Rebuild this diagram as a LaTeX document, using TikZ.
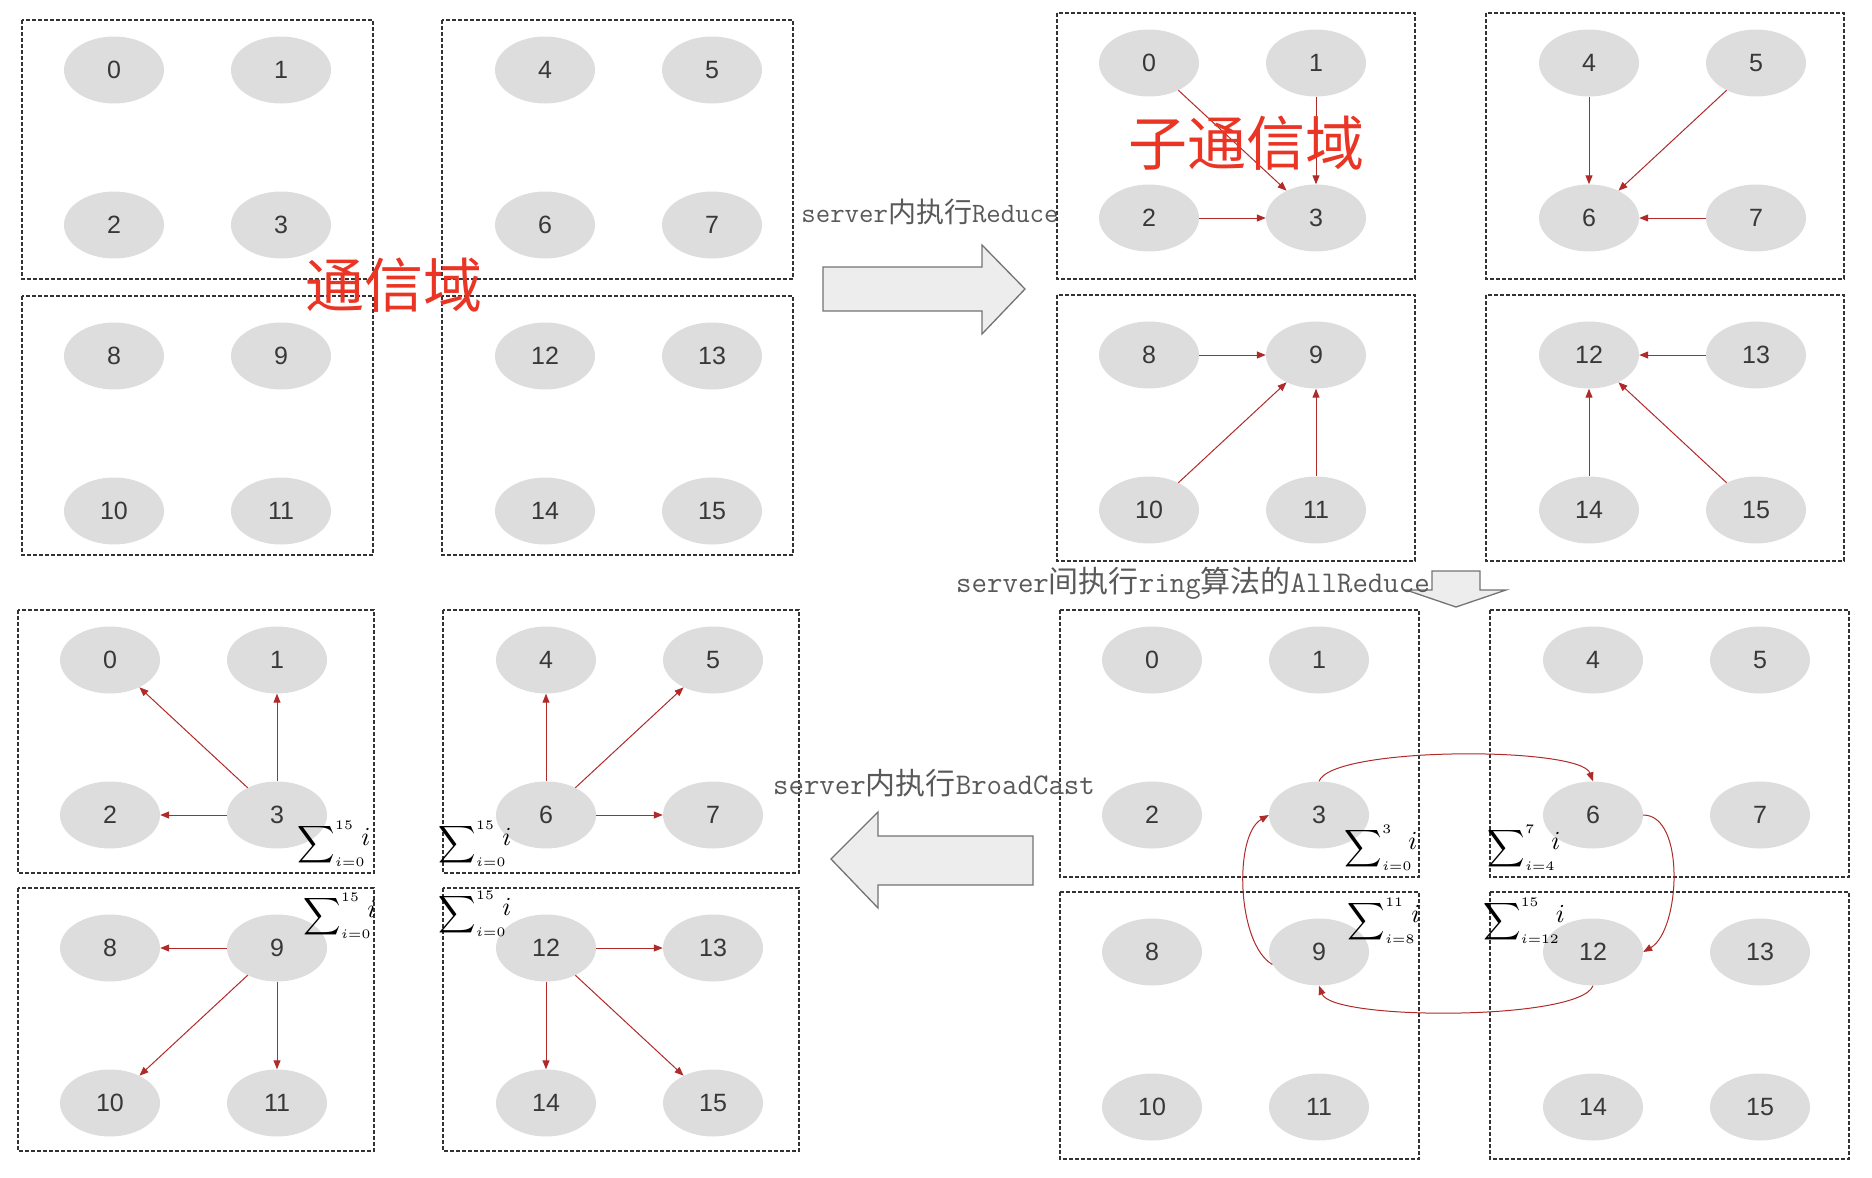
\documentclass[tikz,border=0pt]{standalone}
\usepackage{fontspec}
\newfontfamily\cjk{Noto Sans CJK SC}
\newfontfamily\numfont{Liberation Sans}
\usetikzlibrary{shapes.geometric,arrows.meta}
\definecolor{linkred}{RGB}{176,42,42}
\definecolor{rankgray}{RGB}{221,221,221}
\definecolor{domainred}{RGB}{234,52,36}
\tikzset{
	srvbox/.style={draw=black!80,line width=1.4pt,dash pattern=on 4pt off 2pt},
	rank/.style={ellipse,fill=rankgray,minimum width=100pt,minimum height=67pt,inner sep=0pt,font=\numfont\fontsize{25}{25}\selectfont,text=black!78},
	link/.style={draw=linkred,line width=1pt,-{Triangle[length=9pt,width=7pt]}},
	bigarrow/.style={draw=black!55,line width=1.3pt,fill=black!7},
	steplabel/.style={font=\ttfamily\fontsize{#1}{#1}\selectfont,text=black!65,inner sep=0pt},
	steplabel/.default=30,
	commdomain/.style={font=\cjk\fontsize{59}{59}\selectfont,text=domainred,inner sep=0pt},
	partsum/.style={scale=2.6,inner sep=0pt}
}
\begin{document}
\begin{tikzpicture}[x=1pt,y=-1pt]
	\useasboundingbox (0,0) rectangle (1872,1178);

	\foreach \pn/\ox/\oy/\dx/\dy/\w/\h in {a/22/20/420/276/351/259, b/1057/13/429/282/358/266, d/18/610/425/278/356/263, c/1060/610/430/282/359/267} {
		\foreach \bi/\bx/\by/\sx/\sy in {0/0/0/0/0, 1/1/0/11/0, 2/0/1/0/10, 3/1/1/11/10} {
			\draw[srvbox] (\ox+\bx*\dx,\oy+\by*\dy) rectangle ++(\w,\h);
			\foreach \r/\cx/\cy in {0/0/0, 1/1/0, 2/0/1, 3/1/1} {
				\pgfmathtruncatemacro{\rk}{4*\bi+\r}
				\node[rank] (\pn\rk) at (\ox+\bx*\dx+92+\sx+167*\cx,\oy+\by*\dy+50+\sy+155*\cy) {\rk};
			}
		}
	}

	\foreach \s/\t in {0/3, 1/3, 2/3, 4/6, 5/6, 7/6, 8/9, 10/9, 11/9, 13/12, 14/12, 15/12} {\draw[link] (b\s) -- (b\t);}
	\foreach \s/\t in {3/0, 3/1, 3/2, 6/4, 6/5, 6/7, 9/8, 9/10, 9/11, 12/13, 12/14, 12/15} {\draw[link] (d\s) -- (d\t);}

	\draw[link] (c3.north) to[out=70,in=110,looseness=0.35] (c6.north);
	\draw[link] (c6.east) to[out=0,in=30,looseness=0.8] (c12.east);
	\draw[link] (c12.south) to[out=-110,in=-70,looseness=0.35] (c9.south);
	\draw[link] (c9.195) to[out=150,in=210,looseness=0.7] (c3.west);

	\foreach \nm/\x/\y/\lo/\hi in {d0/334/844/0/15, d1/475/844/0/15, d2/340/916/0/15, d3/475/914/0/15, c0/1381/848/0/3, c1/1524/848/4/7, c2/1384/921/8/11, c3/1524/921/12/15} {\node[partsum] (sum\nm) at (\x,\y) {$\displaystyle\sum\nolimits_{\scriptscriptstyle i=\lo}^{\scriptscriptstyle\hi}\mkern-6mu\raisebox{2pt}{$i$}$};}

	\draw[bigarrow] (823,267) -- (982,267) -- (982,245) -- (1025,289) -- (982,334) -- (982,311) -- (823,311) -- cycle;
	\node[steplabel=28] (reducelbl) at (930,212) {server{\cjk 内执行}Reduce};

	\draw[bigarrow] (1432,571) -- (1480,571) -- (1480,590) -- (1506,590) -- (1456,607) -- (1406,590) -- (1432,590) -- cycle;
	\node[steplabel] (ringlbl) at (1193,583) {server{\cjk 间执行}ring{\cjk 算法的}AllReduce};

	\draw[bigarrow] (1033,836) -- (878,836) -- (878,812) -- (831,859) -- (878,908) -- (878,885) -- (1033,885) -- cycle;
	\node[steplabel] (bcastlbl) at (934,783) {server{\cjk 内执行}BroadCast};

	\node[commdomain] (domainlbl) at (394,285) {通信域};
	\node[commdomain] (subdomainlbl) at (1246,143) {子通信域};
\end{tikzpicture}
\end{document}
